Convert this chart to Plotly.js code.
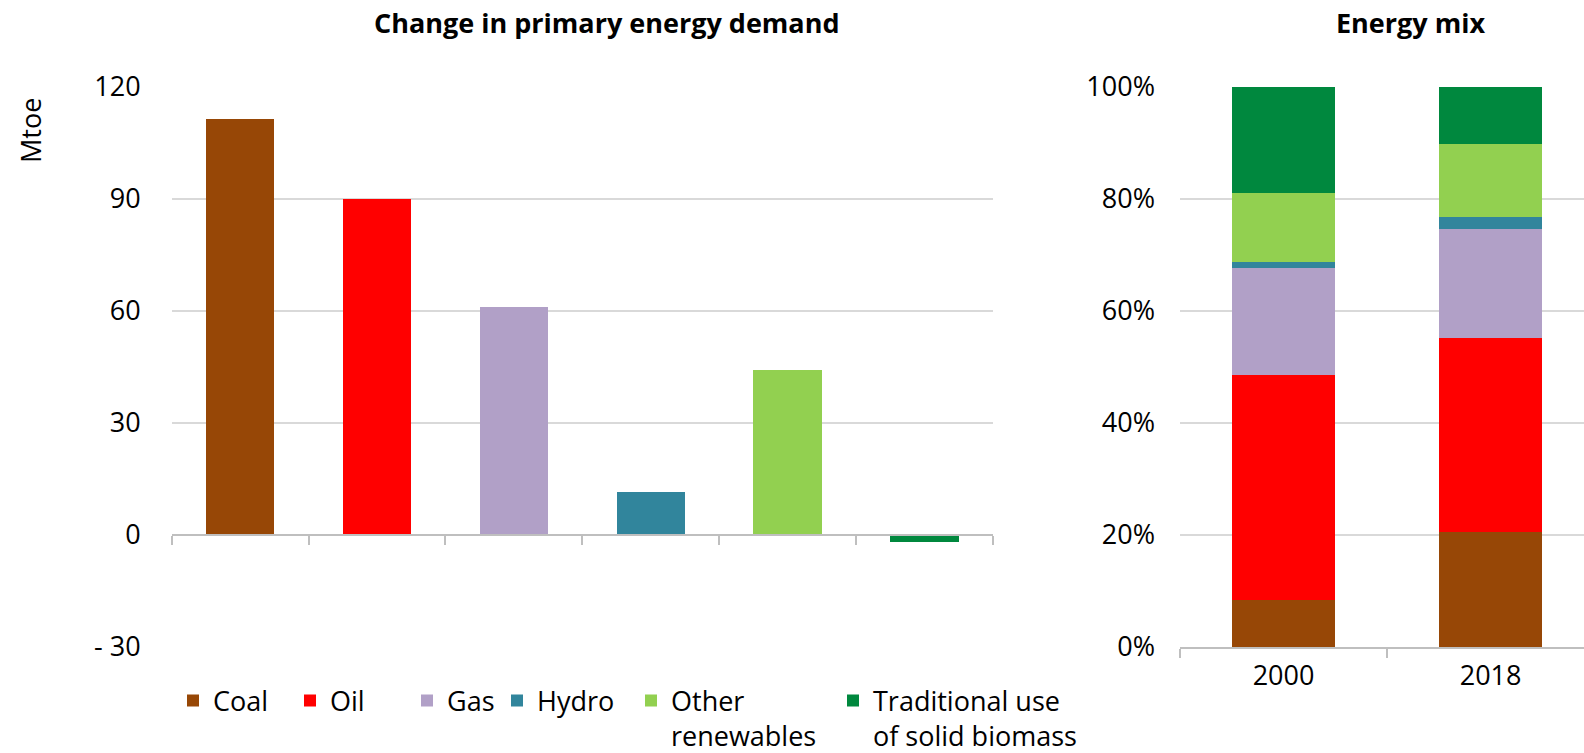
<!DOCTYPE html>
<html>
<head>
<meta charset="utf-8">
<script src="https://cdn.plot.ly/plotly-3.0.1.min.js"></script>
<style>html,body{margin:0;padding:0;background:#fff;}#chart{width:1584px;height:753px;}</style>
</head>
<body>
<div id="chart"></div>
<script>
// ---- data ----
const categories = ["Coal", "Oil", "Gas", "Hydro", "Other renewables", "Traditional use of solid biomass"];
const legendLabels = ["Coal", "Oil", "Gas", "Hydro", "Other<br>renewables", "Traditional use<br>of solid biomass"];
const demandChange = [111.4, 90.0, 61.1, 11.4, 44.3, -1.8];   // Mtoe
const years = ["2000", "2018"];
const share2000 = [0.084, 0.401, 0.192, 0.010, 0.124, 0.189];
const share2018 = [0.205, 0.347, 0.194, 0.022, 0.131, 0.101];
const colors = ["#974706", "#FF0000", "#B1A0C7", "#31859C", "#92D050", "#00883E"];
const leftTickVals = [-30, 0, 30, 60, 90, 120];
const leftTickText = ["- 30", "0", "30", "60", "90", "120"];
const rightTickVals = [0, 0.2, 0.4, 0.6, 0.8, 1.0];
const rightTickText = ["0%", "20%", "40%", "60%", "80%", "100%"];

const FONT = "Open Sans, Noto Sans, sans-serif";
const FS = 27;
const W = 1584, H = 753;
const MT = 87, MB = 105.5;
const plotH = H - MT - MB;
const legendX = [185, 302, 419, 509, 643, 845]; // pixel x of each legend entry

const traces = [];
traces.push({
  type: "bar", x: categories, y: demandChange, xaxis: "x", yaxis: "y",
  marker: {color: colors}, width: 0.5, showlegend: false, hoverinfo: "x+y"
});
categories.forEach((c, i) => {
  traces.push({
    type: "bar", name: legendLabels[i], x: years, y: [share2000[i], share2018[i]],
    xaxis: "x2", yaxis: "y2", marker: {color: colors[i]}, width: 0.5,
    legend: i === 0 ? "legend" : "legend" + (i + 1), showlegend: true
  });
});

const layout = {
  width: W, height: H,
  margin: {l: 0, r: 0, t: MT, b: MB, autoexpand: false},
  paper_bgcolor: "#fff", plot_bgcolor: "rgba(0,0,0,0)",
  font: {family: FONT, size: FS, color: "#000"},
  barmode: "stack", bargap: 0.5,
  xaxis: {
    domain: [171.7 / W, 993 / W], anchor: "free", position: 0.2,
    type: "category", range: [-0.5, 5.5], showticklabels: false,
    showline: true, linecolor: "#BFBFBF", linewidth: 2,
    ticks: "outside", ticklen: 9, tickcolor: "#BFBFBF", tickwidth: 2, tickson: "boundaries",
    showgrid: false, zeroline: false, fixedrange: true
  },
  yaxis: {
    domain: [0, 1], anchor: "x", range: [-30, 120],
    tickvals: leftTickVals, ticktext: leftTickText,
    showgrid: true, gridcolor: "#D9D9D9", gridwidth: 2, zeroline: false,
    showline: false, ticks: "", ticklabelstandoff: 30, fixedrange: true
  },
  xaxis2: {
    domain: [1180 / W, 1], anchor: "y2", type: "category", range: [-0.5, 1.451],
    showline: true, linecolor: "#BFBFBF", linewidth: 2,
    ticks: "outside", ticklen: 9, tickcolor: "#BFBFBF", tickwidth: 2, tickson: "boundaries",
    ticklabelstandoff: 4,
    showgrid: false, zeroline: false, fixedrange: true
  },
  yaxis2: {
    domain: [0, 1], anchor: "x2", range: [0, 1],
    tickvals: rightTickVals, ticktext: rightTickText,
    showgrid: true, gridcolor: "#D9D9D9", gridwidth: 2, zeroline: false,
    showline: false, ticks: "", ticklabelstandoff: 24, fixedrange: true
  },
  annotations: [
    {text: "<b>Change in primary energy demand</b>", xref: "paper", yref: "paper",
     x: 607 / W, y: 1 + (MT - 22) / plotH, xanchor: "center", yanchor: "middle",
     showarrow: false, font: {size: FS}},
    {text: "<b>Energy mix</b>", xref: "paper", yref: "paper",
     x: 1410 / W, y: 1 + (MT - 22) / plotH, xanchor: "center", yanchor: "middle",
     showarrow: false, font: {size: FS}},
    {text: "Mtoe", xref: "paper", yref: "paper", textangle: -90,
     x: 31 / W, y: 1 - (131 - MT) / plotH, xanchor: "center", yanchor: "middle",
     showarrow: false, font: {size: FS}}
  ]
};

categories.forEach((c, i) => {
  const key = i === 0 ? "legend" : "legend" + (i + 1);
  layout[key] = {
    orientation: "v", x: (legendX[i] - 12) / W, xanchor: "left",
    y: -(677 - MT - plotH) / plotH, yanchor: "top", yref: "paper",
    valign: "top", bgcolor: "rgba(0,0,0,0)", borderwidth: 0, tracegroupgap: 0,
    font: {size: FS, family: FONT, color: "#000"}, itemclick: false, itemdoubleclick: false
  };
});

Plotly.newPlot("chart", traces, layout, {displayModeBar: false, staticPlot: true});
</script>
</body>
</html>
